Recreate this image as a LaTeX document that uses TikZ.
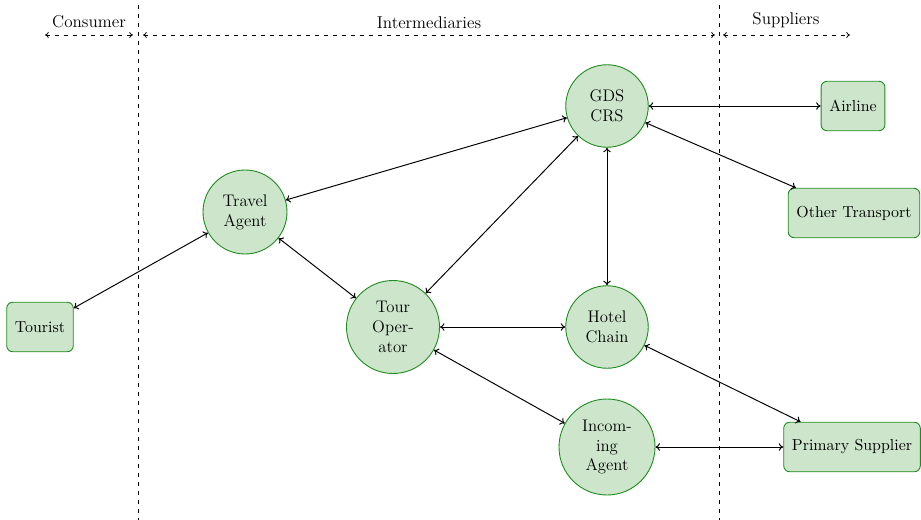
\documentclass[tikz,border=0pt]{standalone}
\usepackage{tikz}
\usetikzlibrary{arrows.meta}
\definecolor{nodegreen}{HTML}{CDE6CB}
\definecolor{edgegreen}{HTML}{1E8C1E}
\tikzset{
  actorbox/.style={
    draw=edgegreen,
    fill=nodegreen,
    semithick,
    rounded corners=4pt,
    align=center,
    minimum height=33pt,
    inner xsep=5.5pt,
    font=\fontsize{10.6}{13}\selectfont
  },
  actorcircle/.style={
    circle,
    draw=edgegreen,
    fill=nodegreen,
    semithick,
    align=center,
    inner sep=1pt,
    font=\fontsize{11.2}{13.3}\selectfont
  },
  linkarrow/.style={
    {To[length=3pt,width=5pt]}-{To[length=3pt,width=5pt]},
    line width=0.65pt
  },
  zonearrow/.style={
    {To[length=2.5pt,width=4pt]}-{To[length=2.5pt,width=4pt]},
    dashed,
    line width=0.5pt
  },
  zoneline/.style={
    dashed,
    line width=0.65pt
  },
  zonelabel/.style={
    font=\fontsize{11.4}{13}\selectfont
  }
}
\begin{document}
\begin{tikzpicture}[x=0.6667pt, y=-0.6667pt]
    \useasboundingbox (0,0) rectangle (921,520);

    % market zones
    \coordinate (divA top) at (138,5);
    \coordinate (divA bot) at (138,520);
    \coordinate (divB top) at (719,5);
    \coordinate (divB bot) at (719,520);
    \draw[zoneline] (divA top) -- (divA bot);
    \draw[zoneline] (divB top) -- (divB bot);

    \coordinate (conL) at (45,35);
    \coordinate (conR) at (133,35);
    \coordinate (intL) at (143,35);
    \coordinate (intR) at (715,35);
    \coordinate (supL) at (723,35);
    \coordinate (supR) at (850,35);
    \draw[zonearrow] (conL) -- (conR);
    \draw[zonearrow] (intL) -- (intR);
    \draw[zonearrow] (supL) -- (supR);
    \node[zonelabel] (consumer) at (89,22) {Consumer};
    \node[zonelabel] (intermed) at (429,23) {Intermediaries};
    \node[zonelabel] (suppliers) at (786,20) {Suppliers};

    % actors
    \node[actorbox] (tourist) at (40,327) {Tourist};
    \node[actorcircle, minimum size=56pt] (agent) at (245,212) {Travel\\Agent};
    \node[actorcircle, minimum size=62pt] (operator) at (393,327) {Tour\\Oper-\\ator};
    \node[actorcircle, minimum size=55pt] (gds) at (607,106) {GDS\\CRS};
    \node[actorcircle, minimum size=55pt] (hotel) at (607,327) {Hotel\\Chain};
    \node[actorcircle, minimum size=64pt] (incoming) at (607,447) {Incom-\\ing\\Agent};
    \node[actorbox] (airline) at (853,106) {Airline};
    \node[actorbox] (transport) at (854,213) {Other Transport};
    \node[actorbox] (primary) at (852,447) {Primary Supplier};

    % links
    \draw[linkarrow] (tourist) -- (agent);
    \draw[linkarrow] (agent) -- (gds);
    \draw[linkarrow] (agent) -- (operator);
    \draw[linkarrow] (operator) -- (gds);
    \draw[linkarrow] (operator) -- (hotel);
    \draw[linkarrow] (operator) -- (incoming);
    \draw[linkarrow] (gds) -- (hotel);
    \draw[linkarrow] (gds) -- (airline);
    \draw[linkarrow] (gds) -- (transport);
    \draw[linkarrow] (hotel) -- (primary);
    \draw[linkarrow] (incoming) -- (primary);
\end{tikzpicture}
\end{document}
